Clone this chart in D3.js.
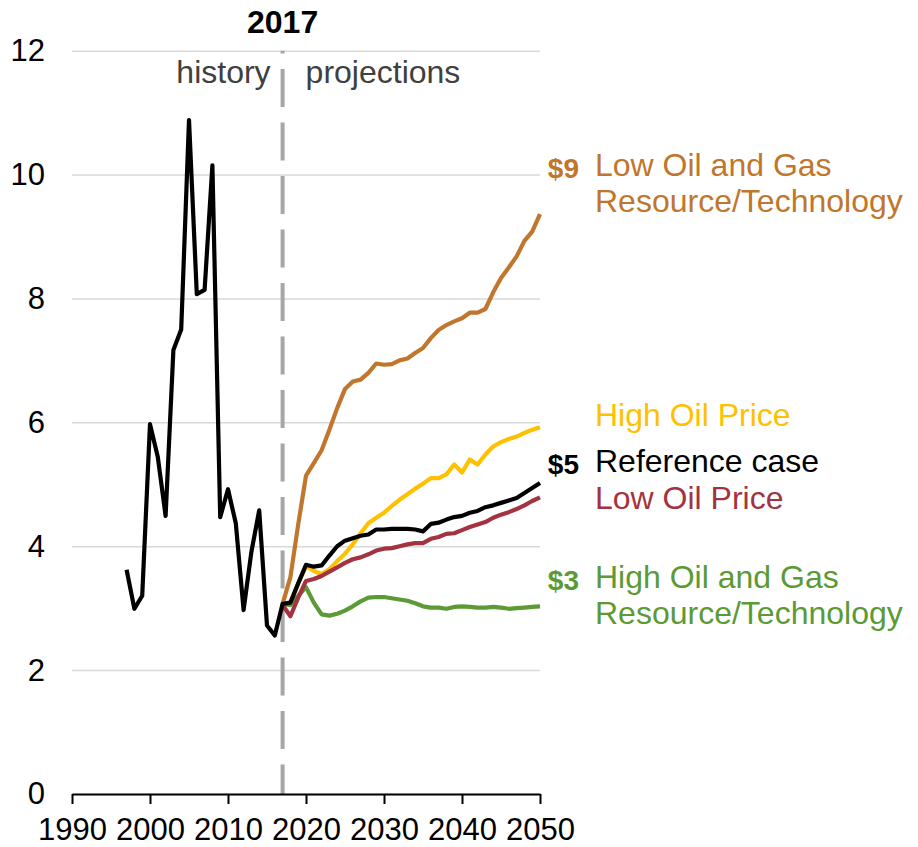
<!DOCTYPE html>
<html>
<head>
<meta charset="utf-8">
<script src="https://cdn.jsdelivr.net/npm/d3@7"></script>
<style>
  body { margin: 0; background: #fff; }
  svg { display: block; font-family: "Liberation Sans", Arial, sans-serif; }
</style>
</head>
<body>
<svg id="graph" width="918" height="847"></svg>
<script>
// Henry Hub natural gas price, 2017 dollars per million Btu
var histYears = [1997, 1998, 1999, 2000, 2001, 2002, 2003, 2004, 2005, 2006, 2007,
    2008, 2009, 2010, 2011, 2012, 2013, 2014, 2015, 2016, 2017];
var histPrice = [3.62, 2.99, 3.20, 5.97, 5.44, 4.49, 7.17, 7.50, 10.88, 8.07, 8.14,
    10.15, 4.47, 4.92, 4.37, 2.97, 3.91, 4.58, 2.72, 2.56, 3.07];

var projYears = [2017, 2018, 2019, 2020, 2021, 2022, 2023, 2024, 2025, 2026, 2027,
    2028, 2029, 2030, 2031, 2032, 2033, 2034, 2035, 2036, 2037, 2038, 2039,
    2040, 2041, 2042, 2043, 2044, 2045, 2046, 2047, 2048, 2049, 2050];

var lowResource = [3.07, 3.50, 4.35, 5.14, 5.34, 5.55, 5.88, 6.23, 6.54, 6.66, 6.69,
    6.80, 6.95, 6.93, 6.94, 7.00, 7.03, 7.12, 7.20, 7.36, 7.49, 7.57, 7.63,
    7.68, 7.77, 7.77, 7.83, 8.10, 8.33, 8.50, 8.68, 8.93, 9.08, 9.36];
var highOilPrice = [3.07, 3.09, 3.40, 3.68, 3.60, 3.55, 3.63, 3.76, 3.88, 4.03, 4.21,
    4.37, 4.46, 4.54, 4.65, 4.75, 4.84, 4.93, 5.01, 5.10, 5.10, 5.16, 5.32,
    5.19, 5.40, 5.32, 5.48, 5.61, 5.68, 5.73, 5.77, 5.83, 5.88, 5.92];
var highResource = [3.07, 3.05, 3.20, 3.34, 3.09, 2.90, 2.88, 2.91, 2.96, 3.03, 3.11,
    3.17, 3.18, 3.18, 3.16, 3.14, 3.12, 3.08, 3.03, 3.01, 3.01, 2.99, 3.02,
    3.03, 3.02, 3.01, 3.01, 3.02, 3.01, 2.99, 3.00, 3.01, 3.02, 3.03];
var lowOilPrice = [3.05, 2.87, 3.17, 3.44, 3.47, 3.52, 3.59, 3.66, 3.73, 3.79, 3.82,
    3.87, 3.93, 3.96, 3.97, 4.00, 4.03, 4.05, 4.05, 4.12, 4.15, 4.20, 4.21,
    4.26, 4.31, 4.35, 4.39, 4.46, 4.51, 4.55, 4.60, 4.66, 4.73, 4.79];
var reference = [3.07, 3.09, 3.40, 3.70, 3.67, 3.69, 3.85, 4.00, 4.09, 4.13, 4.17,
    4.19, 4.27, 4.27, 4.28, 4.28, 4.28, 4.27, 4.24, 4.36, 4.38, 4.43, 4.47,
    4.49, 4.54, 4.57, 4.63, 4.66, 4.70, 4.74, 4.78, 4.86, 4.94, 5.02];

var xTicks = [1990, 2000, 2010, 2020, 2030, 2040, 2050];
var yTicks = [0, 2, 4, 6, 8, 10, 12];

var seriesNames = ["lowResource", "highOilPrice", "highResource", "lowOilPrice", "reference"];
var seriesColors = ["#C0762C", "#FFC000", "#5B9A35", "#A33340", "#000000"];

(function() {
    var svg = d3.select("#graph");
    var margin = { top: 50.7, right: 378, bottom: 53, left: 72 };
    var width = 918, height = 847;
    var fs = 32;

    var x = d3.scaleLinear()
        .domain([1990, 2050])
        .range([margin.left, width - margin.right]);
    var y = d3.scaleLinear()
        .domain([0, 12])
        .range([height - margin.bottom, margin.top]);

    // gridlines + y labels
    svg.append("g")
        .attr("transform", `translate(${margin.left},0)`)
        .call(d3.axisLeft(y).tickValues(yTicks)
            .tickSize(-(x(2050) - x(1990))).tickPadding(27))
        .call(g => g.select(".domain").remove())
        .call(g => g.selectAll(".tick line").attr("stroke", "#D9D9D9").attr("stroke-width", 1.5))
        .call(g => g.selectAll(".tick text")
            .attr("font-size", 31).attr("font-family", "Liberation Sans, Arial, sans-serif")
            .attr("fill", "#000"));

    // 2017 divider
    svg.append("line")
        .attr("x1", x(2017)).attr("x2", x(2017))
        .attr("y1", y(12)).attr("y2", y(0))
        .attr("stroke", "#A6A6A6").attr("stroke-width", 4)
        .attr("stroke-dasharray", "38,15.5")
        .attr("stroke-dashoffset", 35.2);

    svg.append("text")
        .attr("x", x(2017)).attr("y", 33)
        .attr("text-anchor", "middle")
        .attr("font-size", fs).attr("font-weight", "bold")
        .text("2017");
    svg.append("text")
        .attr("x", x(2017) - 12).attr("y", 83)
        .attr("text-anchor", "end")
        .attr("font-size", fs).attr("fill", "#404040")
        .text("history");
    svg.append("text")
        .attr("x", x(2017) + 23).attr("y", 83)
        .attr("font-size", fs).attr("fill", "#404040")
        .text("projections");

    // x axis
    svg.append("g")
        .attr("transform", `translate(0,${y(0)})`)
        .call(d3.axisBottom(x).tickValues(xTicks).tickFormat(d3.format("d"))
            .tickSize(10).tickSizeOuter(0).tickPadding(14))
        .call(g => g.select(".domain").attr("stroke", "#000").attr("stroke-width", 2))
        .call(g => g.selectAll(".tick line").attr("stroke", "#000").attr("stroke-width", 2))
        .call(g => g.selectAll(".tick text")
            .attr("font-size", 31).attr("font-family", "Liberation Sans, Arial, sans-serif")
            .attr("fill", "#000"));

    var line = d3.line()
        .x(d => x(d[0]))
        .y(d => y(d[1]));

    var seriesData = {
        lowResource: lowResource,
        highOilPrice: highOilPrice,
        highResource: highResource,
        lowOilPrice: lowOilPrice,
        reference: reference
    };

    seriesNames.forEach(function(name, i) {
        var pts = projYears.map((yr, j) => [yr, seriesData[name][j]]);
        if (name === "reference") {
            pts = histYears.map((yr, j) => [yr, histPrice[j]]).concat(pts.slice(1));
        }
        svg.append("path")
            .datum(pts)
            .attr("fill", "none")
            .attr("stroke", seriesColors[i])
            .attr("stroke-width", 4.2)
            .attr("stroke-linejoin", "round")
            .attr("d", line);
    });

    // right-hand labels
    var lx = 595, vx = 579;
    function label(lines, color, y0, value) {
        var t = svg.append("text")
            .attr("x", lx).attr("y", y0)
            .attr("font-size", fs).attr("fill", color);
        lines.forEach(function(s, k) {
            t.append("tspan").attr("x", lx).attr("y", y0 + k * 36).text(s);
        });
        if (value) {
            svg.append("text")
                .attr("x", vx).attr("y", y0 + 2)
                .attr("text-anchor", "end")
                .attr("font-size", 28).attr("font-weight", "bold")
                .attr("fill", color)
                .text(value);
        }
    }
    label(["Low Oil and Gas", "Resource/Technology"], "#C0762C", 176, "$9");
    label(["High Oil Price"], "#FFC000", 426, null);
    label(["Reference case"], "#000000", 472, "$5");
    label(["Low Oil Price"], "#A33340", 509, null);
    label(["High Oil and Gas", "Resource/Technology"], "#5B9A35", 588, "$3");
})();
</script>
</body>
</html>
